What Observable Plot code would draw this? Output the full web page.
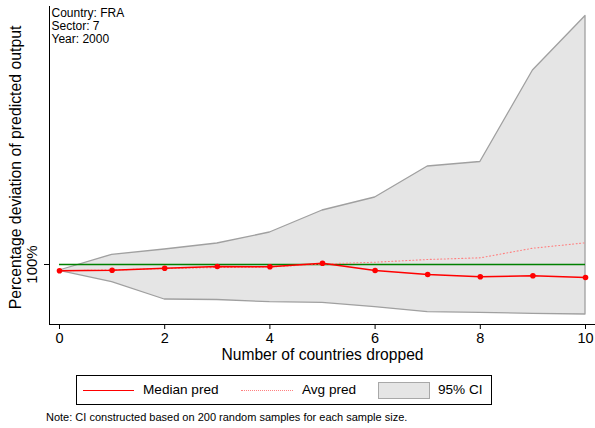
<!DOCTYPE html>
<html>
<head>
<meta charset="utf-8">
<script src="https://cdn.jsdelivr.net/npm/d3@7"></script>
<script src="https://cdn.jsdelivr.net/npm/@observablehq/plot@0.6"></script>
<style>
  body { margin: 0; background: #fff; font-family: "Liberation Sans", Arial, sans-serif; }
  #wrap { position: relative; width: 595px; height: 428px; overflow: hidden; }
  #legend { position: absolute; left: 76px; top: 375px; width: 414px; height: 28px; border: 1px solid #000; background: #fff; }
  .lab { position: absolute; top: 6px; font-size: 13.6px; color: #000; line-height: 16px; }
  .sw { position: absolute; }
  #note { position: absolute; left: 46px; top: 411px; font-size: 11px; color: #000; }
</style>
</head>
<body>
<div id="wrap">
  <div id="chart"></div>
  <div id="legend">
    <div class="sw" style="left:6px;top:14px;width:51px;height:0;border-top:1.5px solid #ff0000;"></div>
    <div class="lab" style="left:66px;">Median pred</div>
    <div class="sw" style="left:164px;top:14px;width:52px;height:0;border-top:1px dotted #ff8080;"></div>
    <div class="lab" style="left:225px;">Avg pred</div>
    <div class="sw" style="left:301px;top:6px;width:50px;height:15px;background:#e5e5e5;border:1px solid #a8a8a8;"></div>
    <div class="lab" style="left:361px;">95% CI</div>
  </div>
  <div id="note">Note: CI constructed based on 200 random samples for each sample size.</div>
</div>
<script>
const dropped = [0, 1, 2, 3, 4, 5, 6, 7, 8, 9, 10];
const medianPred = [98.74, 98.86, 99.26, 99.6, 99.54, 100.26, 98.8, 98.0, 97.54, 97.74, 97.4];
const avgPred = [98.74, 98.9, 99.2, 99.4, 99.5, 100.1, 100.46, 101.0, 101.34, 103.26, 104.34];
const ciUpper = [98.8, 101.94, 103.0, 104.2, 106.4, 110.8, 113.4, 119.6, 120.5, 138.8, 149.7];
const ciLower = [98.74, 96.46, 93.0, 92.9, 92.46, 92.34, 91.46, 90.46, 90.34, 90.14, 90.0];
const baseline = 100;
const info = ["Country: FRA", "Sector: 7", "Year: 2000"];

const rows = dropped.map((d, i) => ({d, med: medianPred[i], avg: avgPred[i], lo: ciLower[i], hi: ciUpper[i]}));
const xDom = [-0.19, 10.19];
const yDom = [88, 151.6];

const chart = Plot.plot({
  width: 595,
  height: 370,
  marginLeft: 49,
  marginRight: 0,
  marginTop: 6,
  marginBottom: 46,
  style: {fontFamily: '"Liberation Sans", Arial, sans-serif', background: "#fff", color: "#000"},
  x: {domain: xDom, axis: null},
  y: {domain: yDom, axis: null},
  marks: [
    Plot.areaY(rows, {x: "d", y1: "lo", y2: "hi", fill: "#e5e5e5", stroke: "#a0a0a0", strokeWidth: 1.3}),
    Plot.ruleY([baseline], {x1: dropped[0], x2: dropped[dropped.length - 1], stroke: "#008000", strokeWidth: 1.5}),
    Plot.lineY(rows, {x: "d", y: "avg", stroke: "#ff8080", strokeWidth: 1.1, strokeDasharray: "1,2.5"}),
    Plot.lineY(rows, {x: "d", y: "med", stroke: "#ff0000", strokeWidth: 1.5}),
    Plot.dot(rows, {x: "d", y: "med", r: 2.8, fill: "#ff0000", stroke: "none"}),
    Plot.ruleX([xDom[0]], {y1: yDom[0], y2: yDom[1], stroke: "#000", strokeWidth: 1}),
    Plot.ruleY([yDom[0]], {x1: xDom[0], x2: xDom[1], stroke: "#000", strokeWidth: 1}),
    Plot.axisX({ticks: [0, 2, 4, 6, 8, 10], tickSize: 5, tickPadding: 3, fontSize: 14.5, label: null, tickFormat: d => String(d)}),
    Plot.axisY({ticks: [baseline], tickSize: 5, tickFormat: () => "", label: null}),
    Plot.text([baseline], {y: d => d, text: () => "100%", frameAnchor: "left", dx: -17, rotate: -90, fontSize: 15, textAnchor: "middle"}),
    Plot.text(["Percentage deviation of predicted output"], {frameAnchor: "left", dx: -34, dy: 2, rotate: -90, fontSize: 15.8, textAnchor: "middle"}),
    Plot.text(["Number of countries dropped"], {frameAnchor: "bottom", dy: 35, fontSize: 15.6, textAnchor: "middle"}),
    Plot.text([info.join("\n")], {frameAnchor: "top-left", dx: 2, dy: 2, fontSize: 12, lineAnchor: "top", lineHeight: 1.05, textAnchor: "start"})
  ]
});
document.getElementById("chart").appendChild(chart);
</script>
</body>
</html>
